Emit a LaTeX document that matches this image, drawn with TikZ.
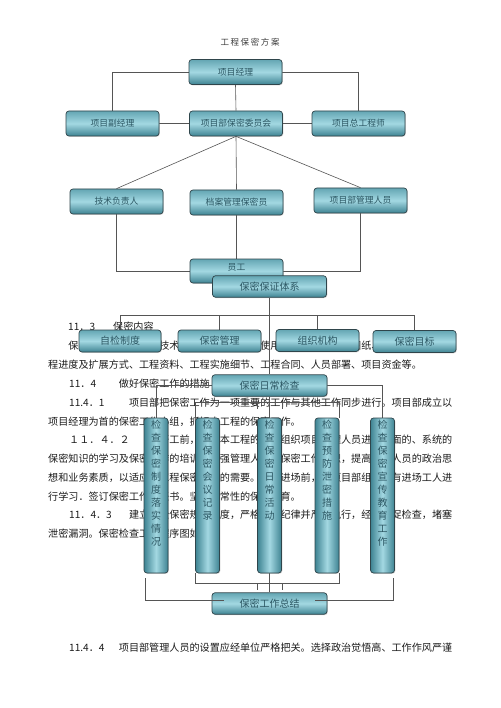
\documentclass[tikz,border=0pt]{standalone}
\usepackage{fontspec}
\setmainfont{Noto Sans CJK SC}
\usetikzlibrary{calc,shadows}
\pgfdeclarelayer{back}
\pgfdeclarelayer{bg}
\pgfdeclarelayer{front}
\pgfsetlayers{back,bg,main,front}
\definecolor{boxline}{HTML}{2F454B}
\definecolor{boxtop}{HTML}{64A6B3}
\definecolor{boxmid}{HTML}{A3D8E2}
\definecolor{boxbot}{HTML}{3E8392}
\definecolor{boxtext}{HTML}{2C5763}
\definecolor{conncol}{HTML}{555555}
\definecolor{bodyc}{HTML}{1C1C1C}
\begin{document}
\begin{tikzpicture}[x=1pt,y=-1pt,
 box/.style={draw=boxline, line width=0.7pt, rounded corners=3pt, inner sep=0pt, text=boxtext,
   drop shadow={shadow xshift=0.8pt, shadow yshift=-0.8pt, opacity=0.35}},
 hbox/.style={box, top color=boxtop, bottom color=boxbot, middle color=boxmid,
   minimum width=93pt, minimum height=25pt, font=\fontsize{8.8}{10}\selectfont},
 wbox/.style={box, top color=boxtop, bottom color=boxbot, middle color=boxmid,
   minimum height=21.5pt, font=\fontsize{10}{12}\selectfont},
 vbox/.style={box, left color=boxbot, right color=boxbot, middle color=boxmid,
   minimum width=24pt, minimum height=155pt},
 vtxt/.style={anchor=north, inner sep=0pt, align=center, text=boxtext, font=\fontsize{10}{13}\selectfont},
 body/.style={anchor=west, inner sep=0pt, text=bodyc, font=\fontsize{10.1}{12}\selectfont},
 conn/.style={draw=conncol, line width=0.6pt}
]
\useasboundingbox (0,0) rectangle (500,708);
\begin{pgfonlayer}{back}
\fill[white] (0,0) rectangle (500,708);
\end{pgfonlayer}

% ---------- boxes ----------
\node[hbox] (pm) at (235.5,72) {项目经理};
\node[hbox] (vpm) at (112.5,123.5) {项目副经理};
\node[hbox] (cmt) at (236,123.5) {项目部保密委员会};
\node[hbox] (ce) at (358.5,123.5) {项目总工程师};
\node[hbox] (tech) at (116.5,201.5) {技术负责人};
\node[hbox] (arch) at (236.5,202.5) {档案管理保密员};
\node[hbox] (mgr) at (360.5,200.5) {项目部管理人员};
\node[hbox, minimum height=24pt] (staff) at (236.5,271) {};
\node[inner sep=0pt, text=boxtext, font=\fontsize{8.8}{10}\selectfont] (stafft) at (236.5,267) {员工};
\node[wbox, minimum width=114pt] (sys) at (269.5,286.5) {保密保证体系};
\node[wbox, minimum width=82pt, minimum height=22pt] (zj) at (120,341) {自检制度};
\node[wbox, minimum width=83pt, minimum height=22pt] (bm) at (219.5,341) {保密管理};
\node[wbox, minimum width=83pt, minimum height=22pt] (zz) at (317.5,340.5) {组织机构};
\node[wbox, minimum width=83pt, minimum height=22pt] (mb) at (414.5,341.5) {保密目标};
\node[wbox, minimum width=115pt] (daily) at (269.5,385.5) {保密日常检查};
\node[vbox] (c1) at (156,495.5) {};
\node[vbox] (c2) at (207.5,495.5) {};
\node[vbox] (c3) at (269.5,495.5) {};
\node[vbox] (c4) at (327,495.5) {};
\node[vbox] (c5) at (382.5,495.5) {};
\node[vtxt] (c1t) at ([yshift=-2.5pt]c1.north) {检\\查\\保\\密\\制\\度\\落\\实\\情\\况};
\node[vtxt] (c2t) at ([yshift=-2.5pt]c2.north) {检\\查\\保\\密\\会\\议\\记\\录};
\node[vtxt] (c3t) at ([yshift=-2.5pt]c3.north) {检\\查\\保\\密\\日\\常\\活\\动};
\node[vtxt] (c4t) at ([yshift=-2.5pt]c4.north) {检\\查\\预\\防\\泄\\密\\措\\施};
\node[vtxt] (c5t) at ([yshift=-2.5pt]c5.north) {检\\查\\保\\密\\宣\\传\\教\\育\\工\\作};
\node[wbox, minimum width=115pt] (sum) at (269.5,603.5) {保密工作总结};

% ---------- text and connectors (behind boxes) ----------
\begin{pgfonlayer}{bg}
\node[inner sep=0pt, text=bodyc!85, font=\fontsize{8.5}{10}\selectfont] (title) at (250,42)
  {工\kern1.6pt 程\kern1.6pt 保\kern1.6pt 密\kern1.6pt 方\kern1.6pt 案};
\node[body] (l1a) at (68,327) {11．3};
\node[body] (l1b) at (113,327) {保密内容};
\node[body] (l2) at (68.2,346) {保密内容包括：施工技术资料、施工图纸的使用、工程竣工图、图纸、施工计划书、工};
\node[body] (l3) at (48,365) {程进度及扩展方式、工程资料、工程实施细节、工程合同、人员部署、项目资金等。};
\node[body] (l4a) at (69,384) {11．4};
\node[body] (l4b) at (118.7,384) {做好保密工作的措施};
\node[body] (l5a) at (69,403) {11.4．1};
\node[body] (l5b) at (128.8,403) {项目部把保密工作为一项重要的工作与其他工作同步进行。项目部成立以};
\node[body] (l6) at (48,422) {项目经理为首的保密工作小组，抓好本工程的保密工作。};
\node[body] (l7a) at (69,440) {１１．４．２};
\node[body] (l7b) at (159.1,440) {开工前，根据本工程的特点组织项目管理人员进行全面的、系统的};
\node[body] (l8) at (48,459) {保密知识的学习及保密工作的培训，加强管理人员的保密工作意识，提高管理人员的政治思};
\node[body] (l9) at (48,478) {想和业务素质，以适应本工程保密工作的需要。工人进场前，由项目部组织所有进场工人进};
\node[body] (l10) at (48,497) {行学习．签订保密工作责任书。坚持经常性的保密教育。};
\node[body] (l11a) at (69,515) {11．4．3};
\node[body] (l11b) at (128.8,515) {建立健全保密规章制度，严格保密纪律并严格执行，经常督促检查，堵塞};
\node[body] (l12) at (48,534) {泄密漏洞。保密检查工作程序图如下：};
\node[body] (l13a) at (69,648) {11.4．4};
\node[body] (l13b) at (118.7,648) {项目部管理人员的设置应经单位严格把关。选择政治觉悟高、工作作风严谨};

\draw[conn] (pm.west) -| (vpm.north);
\draw[conn] (pm.east) -| (ce.north);
\draw[conn] (pm.south) -- (cmt.north);
\draw[conn] (vpm.east) -- (cmt.west);
\draw[conn] (cmt.east) -- (ce.west);
\draw[conn] (cmt.south) -- (tech.north);
\draw[conn] (cmt.south) -- (arch.north);
\draw[conn] (cmt.south) -- (mgr.north);
\draw[conn] (tech.south) |- (staff.west);
\draw[conn] (arch.south) -- (staff.north);
\draw[conn] (mgr.south) |- (staff.east);
\draw[conn] (sys.south) -- (daily.north);
\draw[conn] (zj.north) -- ++(0,-14) -| (mb.north);
\draw[conn] (bm.north) -- ++(0,-14);
\draw[conn] (zz.north) -- ++(0,-13.5);
\draw[conn] (daily.west) -| (c1.north);
\draw[conn] (daily.east) -| (c5.north);
\draw[conn] (daily.south) -- (c3.north);
\draw[conn] (c2.north west) -- ++(0,-15) -| (c4.north east);
\draw[conn] ($(c3.north west)+(0,-15)$) -- ++(0,6);
\draw[conn] ($(c3.north east)+(0,-15)$) -- ++(0,6);
\draw[conn] (c2.south west) -- ++(0,10) -| (c4.south east);
\draw[conn] ($(c3.south west)+(0,10)$) -- ++(0,7);
\draw[conn] ($(c3.south east)+(0,10)$) -- ++(0,7);
\draw[conn] (c3.south) -- (sum.north);
\end{pgfonlayer}

\begin{pgfonlayer}{front}
\draw[conn] ($(c1.south west)+(2,5)$) |- ($(sum.west)+(12,-3)$);
\draw[conn] ($(c5.south east)+(-2,5)$) |- ($(sum.east)+(-12,-3)$);
\end{pgfonlayer}
\end{tikzpicture}
\end{document}
